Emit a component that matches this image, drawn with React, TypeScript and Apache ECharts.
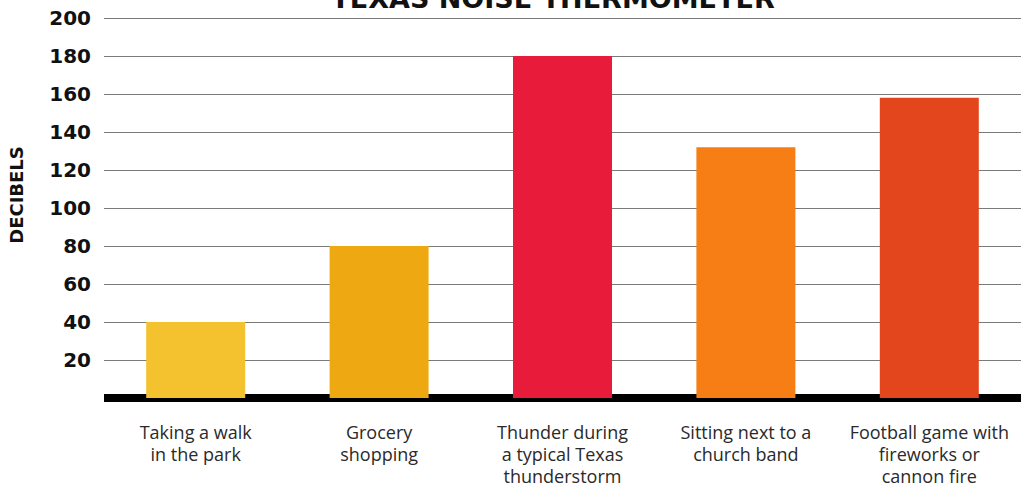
import React, { useEffect, useRef } from "react";
import * as echarts from "echarts";

const categories = [
  "Taking a walk\nin the park",
  "Grocery\nshopping",
  "Thunder during\na typical Texas\nthunderstorm",
  "Sitting next to a\nchurch band",
  "Football game with\nfireworks or\ncannon fire",
];
const decibels = [40, 80, 180, 132, 158];
const barColors = ["#F4C22E", "#EEA912", "#E81B3B", "#F67E14", "#E3461C"];
const titleText = "TEXAS NOISE THERMOMETER";
const yAxisTitle = "DECIBELS";

export default function App() {
  const ref = useRef<HTMLDivElement>(null);
  useEffect(() => {
    document.body.style.margin = "0";
    const chart = echarts.init(ref.current!, null, { renderer: "svg" });
    chart.setOption({
      animation: false,
      backgroundColor: "#ffffff",
      grid: { left: 104, right: 8, top: 18, bottom: 98, containLabel: false },
      graphic: [
        {
          type: "text",
          x: 553,
          y: 12,
          style: {
            text: titleText,
            fill: "#111",
            font: "bold 27px 'DejaVu Sans'",
            textAlign: "center",
            textVerticalAlign: "bottom",
          },
        },
        {
          type: "text",
          x: 16,
          y: 195,
          rotation: Math.PI / 2,
          style: {
            text: yAxisTitle,
            fill: "#111",
            font: "bold 18px 'DejaVu Sans'",
            textAlign: "center",
            textVerticalAlign: "middle",
          },
        },
      ],
      xAxis: {
        type: "category",
        data: categories,
        axisLine: { show: true, lineStyle: { color: "#000", width: 8, cap: "butt" } },
        axisTick: { show: false },
        axisLabel: {
          margin: 23,
          color: "#2a2a2a",
          fontFamily: "Open Sans",
          fontSize: 18,
          lineHeight: 22,
          interval: 0,
        },
      },
      yAxis: {
        type: "value",
        min: 0,
        max: 200,
        interval: 20,
        axisLine: { show: false },
        axisTick: { show: false },
        splitLine: { lineStyle: { color: "#7a7a7a", width: 1 } },
        axisLabel: {
          margin: 13,
          color: "#111",
          fontFamily: "DejaVu Sans",
          fontWeight: "bold",
          fontSize: 20,
          formatter: (v: number) => (v === 0 ? "" : String(v)),
        },
      },
      series: [
        {
          type: "bar",
          barWidth: 99,
          data: decibels.map((v, i) => ({ value: v, itemStyle: { color: barColors[i] } })),
          z: 1,
        },
      ],
    });
    return () => chart.dispose();
  }, []);
  return <div ref={ref} style={{ width: 1029, height: 496 }} />;
}
